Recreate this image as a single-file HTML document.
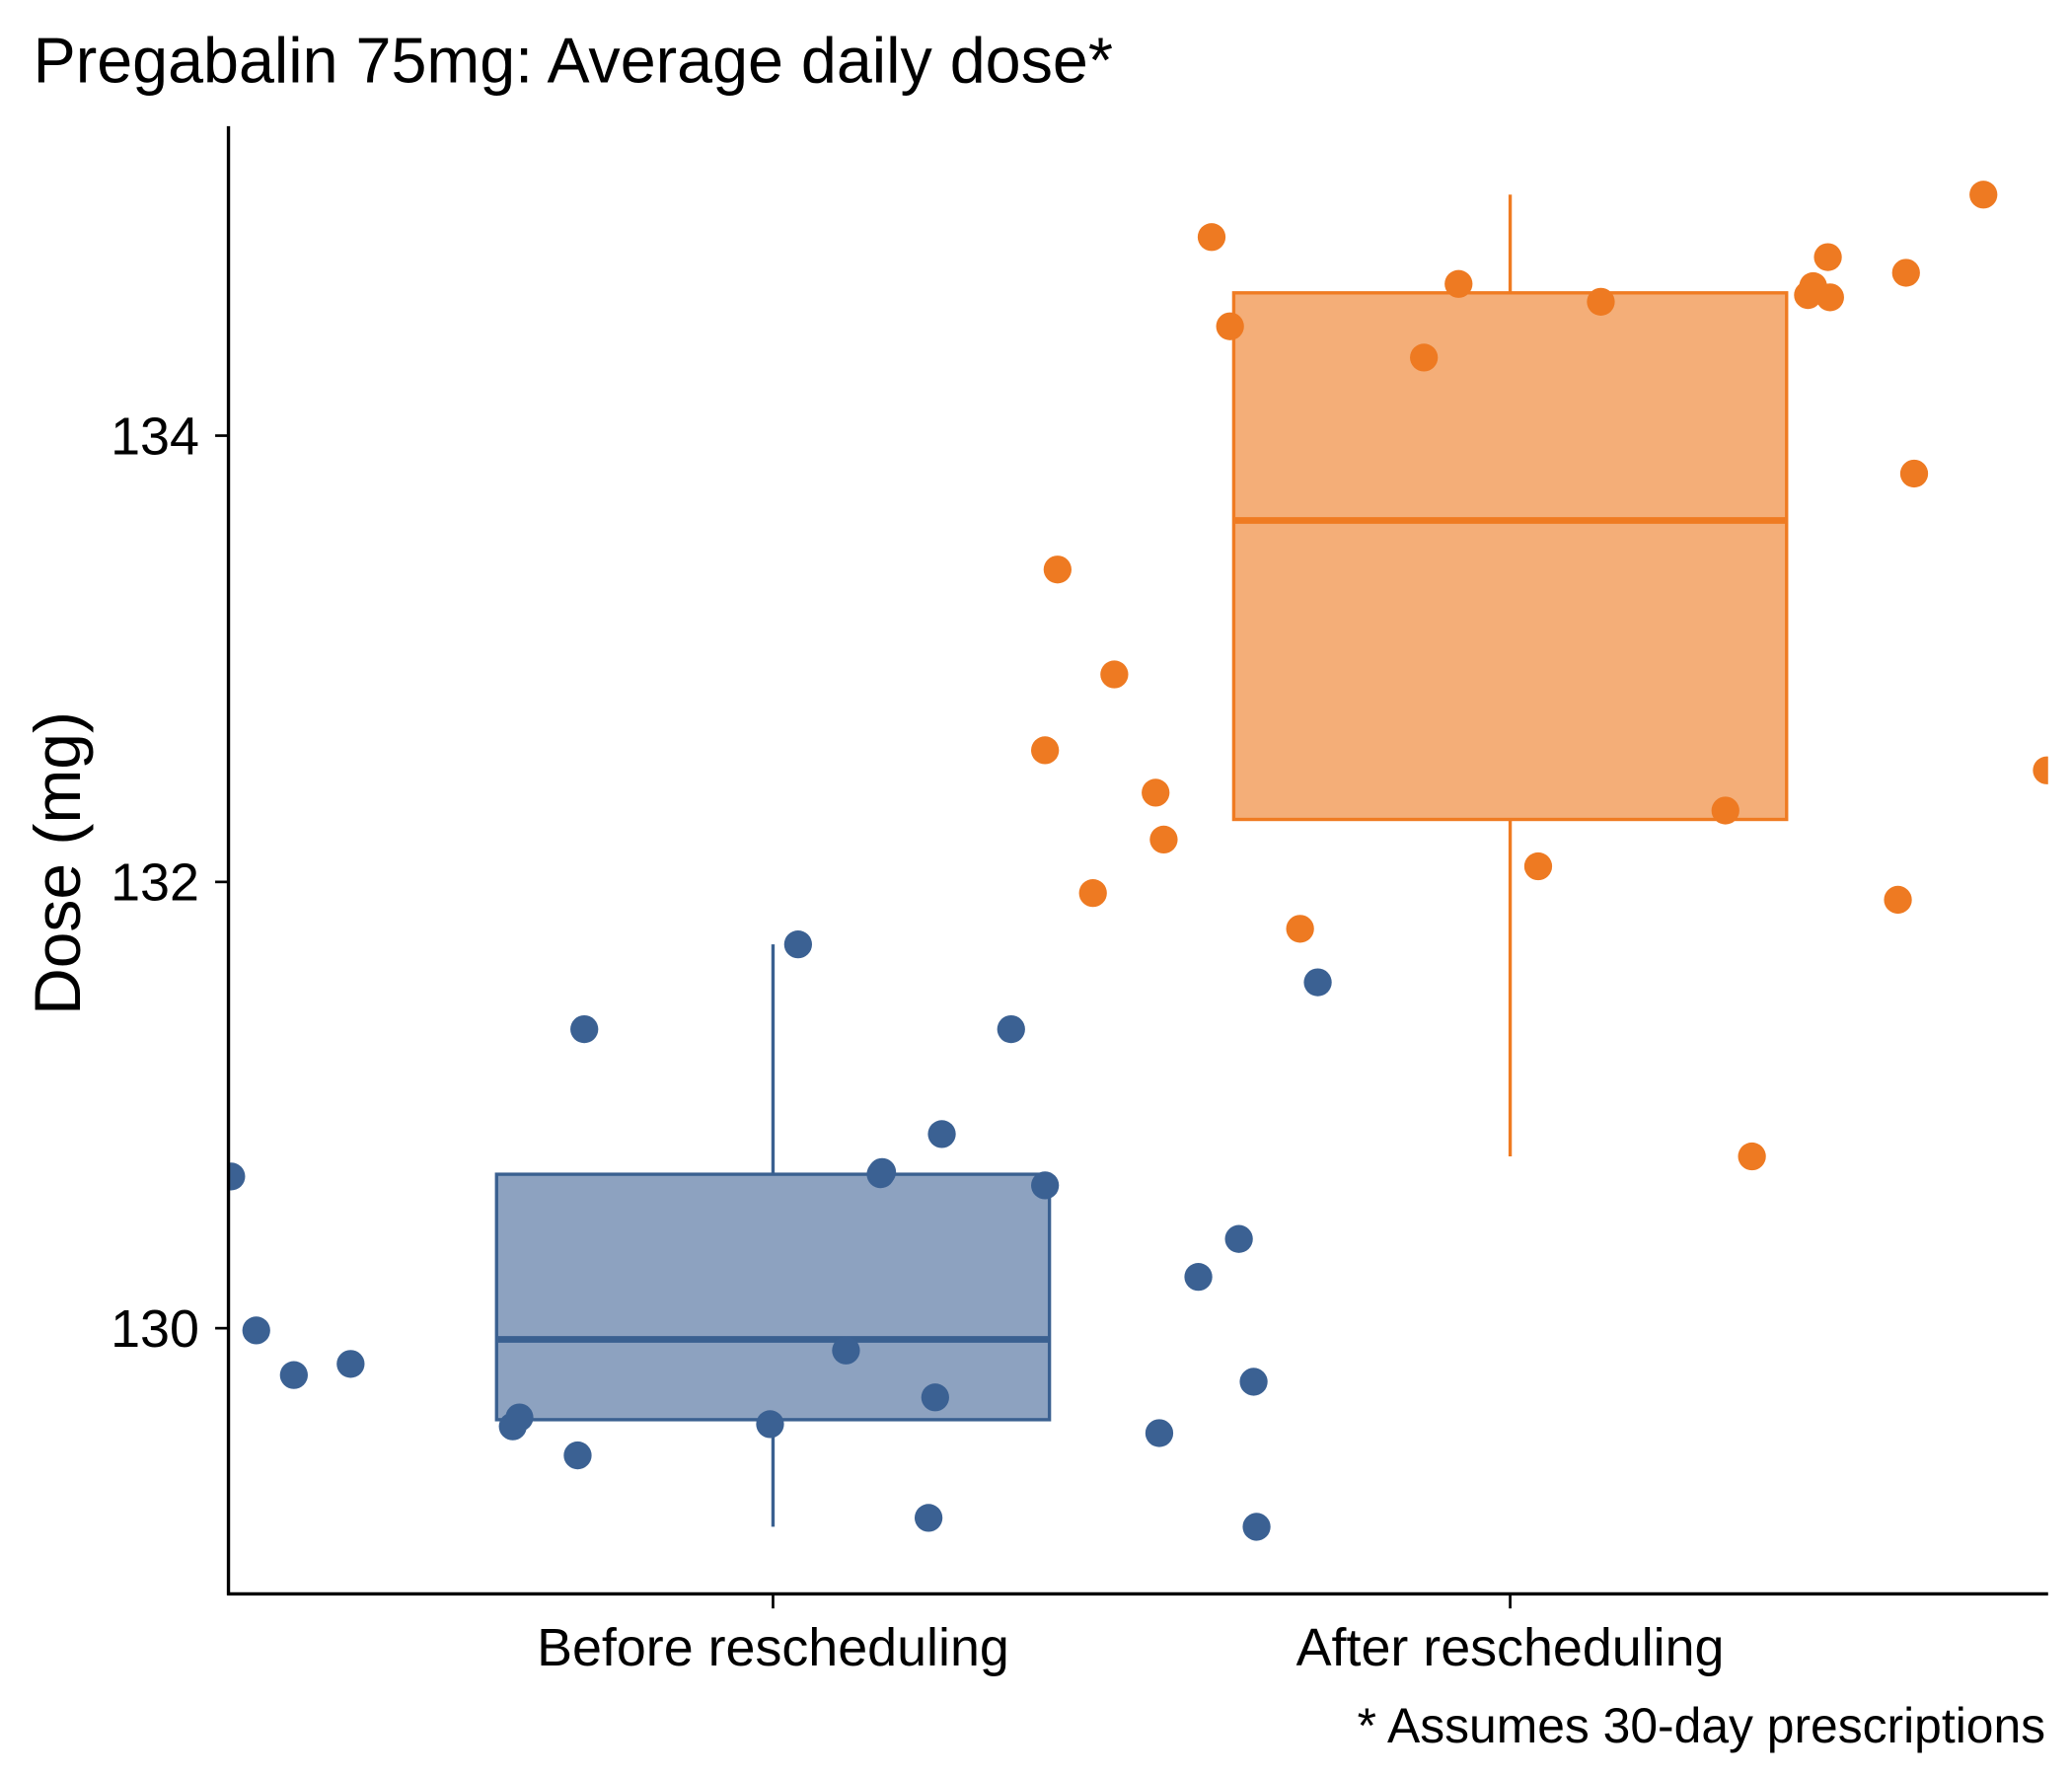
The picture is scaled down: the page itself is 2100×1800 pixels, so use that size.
<!DOCTYPE html>
<html><head><meta charset="utf-8"><style>html,body{margin:0;padding:0;background:#fff}svg{display:block}</style></head>
<body>
<svg width="2100" height="1800" viewBox="0 0 1560 1337.14" xmlns="http://www.w3.org/2000/svg" font-family="Liberation Sans, Arial, sans-serif">
<defs><clipPath id="pc"><rect x="172" y="60" width="1370" height="1140"/></clipPath></defs>
<text x="25" y="62" font-size="48">Pregabalin 75mg: Average daily dose*</text>
<g id="plot" clip-path="url(#pc)"></g>
<g id="axes"></g>
<text transform="translate(60,650) rotate(-90)" text-anchor="middle" font-size="49">Dose (mg)</text>
<text x="1540" y="1312" text-anchor="end" font-size="37">* Assumes 30-day prescriptions</text>
</svg>
<script>
const categories = ["Before rescheduling", "After rescheduling"];
const yTicks = [130, 132, 134];
const boxQ1 = [129.59, 132.28];
const boxMedian = [129.95, 133.62];
const boxQ3 = [130.69, 134.64];
const whiskerLow = [129.11, 130.77];
const whiskerHigh = [131.72, 135.08];
const beforeValues = [130.68,129.99,129.79,129.84,129.56,129.60,129.43,131.34,129.57,131.72,129.90,130.69,130.70,129.15,129.69,130.87,131.34,130.64,129.53,130.23,130.40,129.76,129.11,131.55];
const beforeJitter = [-0.735,-0.701,-0.650,-0.573,-0.353,-0.344,-0.265,-0.256,-0.004,0.034,0.099,0.146,0.148,0.211,0.220,0.229,0.323,0.369,0.524,0.577,0.632,0.652,0.656,0.739];
const afterValues = [132.59,133.40,131.95,132.93,132.40,132.19,134.89,134.49,131.79,134.35,134.68,132.07,134.60,132.32,130.77,134.63,134.67,134.80,134.62,131.92,134.73,133.83,135.08,132.50];
const afterJitter = [-0.631,-0.614,-0.566,-0.537,-0.481,-0.470,-0.405,-0.380,-0.285,-0.117,-0.070,0.038,0.123,0.292,0.328,0.404,0.411,0.431,0.434,0.526,0.537,0.548,0.642,0.728];

const NS="http://www.w3.org/2000/svg";
const y = v => 1000 - (v - 130) * 168;
const x = p => 582 + p * 555;
const BOXW = 0.75;
const strokeC = ["#3a6090", "#ef7b22"], fillC = ["#8da2c0", "#f4ae78"], ptC = ["#3b6193", "#ee7a22"];
const plot = document.getElementById('plot'), axes = document.getElementById('axes');
function mk(tag, attrs, parent){const e=document.createElementNS(NS,tag);for(const k in attrs)e.setAttribute(k,attrs[k]);parent.appendChild(e);return e;}

categories.forEach((c,i)=>{
  const cx=x(i), hw=BOXW*555/2;
  let w=mk('line',{x1:cx,x2:cx,y1:y(whiskerHigh[i]),y2:y(whiskerLow[i]),stroke:strokeC[i],'stroke-width':2.5},plot);
  
  
  let b=mk('rect',{x:cx-hw,y:y(boxQ3[i]),width:2*hw,height:y(boxQ1[i])-y(boxQ3[i]),fill:fillC[i],stroke:strokeC[i],'stroke-width':2.5},plot);
  
  
  let m=mk('line',{x1:cx-hw,x2:cx+hw,y1:y(boxMedian[i]),y2:y(boxMedian[i]),stroke:strokeC[i],'stroke-width':5},plot);
  
  
});
[[beforeValues,beforeJitter,0],[afterValues,afterJitter,1]].forEach(([vals,jit,i])=>{
  vals.forEach((v,k)=>{
    const c=mk('circle',{cx:x(i+jit[k]),cy:y(v),r:10.5,fill:ptC[i]},plot);
    
    
  });
});
let ya=mk('line',{x1:172,x2:172,y1:95,y2:1201,stroke:'#000','stroke-width':2.5},axes);


let xa=mk('line',{x1:171,x2:1542,y1:1200,y2:1200,stroke:'#000','stroke-width':2.5},axes);


yTicks.forEach(t=>{
  mk('line',{x1:162,x2:172,y1:y(t),y2:y(t),stroke:'#000','stroke-width':2},axes);
  const tx=mk('text',{x:150,y:y(t)+14,'text-anchor':'end','font-size':40},axes);
  tx.textContent=t;
  
  
});
categories.forEach((c,i)=>{
  mk('line',{x1:x(i),x2:x(i),y1:1200,y2:1211,stroke:'#000','stroke-width':2},axes);
  const tx=mk('text',{x:x(i),y:1254,'text-anchor':'middle','font-size':40},axes);
  tx.textContent=c;
  
  
});
</script>
</body></html>
